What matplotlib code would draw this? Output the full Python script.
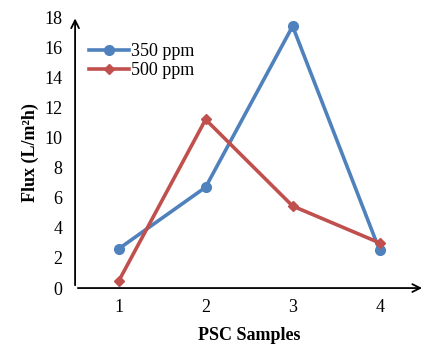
import matplotlib.pyplot as plt

plt.rcParams['font.family'] = ['Liberation Serif', 'DejaVu Serif']

samples = [1, 2, 3, 4]
flux_350 = [2.6, 6.7, 17.4, 2.5]
flux_500 = [0.45, 11.2, 5.45, 3.0]

fig = plt.figure(figsize=(4.34, 3.5), dpi=100)
ax = fig.add_axes([0.173, 0.177, 0.802, 0.774])

ax.plot(samples, flux_350, color='#4F81BD', lw=2.6, marker='o', ms=7, label='350 ppm')
ax.plot(samples, flux_500, color='#C0504D', lw=2.6, marker='D', ms=5.5, label='500 ppm')

ax.set_xlim(0.5, 4.5)
ax.set_ylim(0, 18)
ax.set_xticks(samples)
ax.set_yticks(range(0, 19, 2))
ax.tick_params(length=0, labelsize=13)
ax.tick_params(axis='x', pad=8)
ax.tick_params(axis='y', pad=9)

for s in ['top', 'right', 'left', 'bottom']:
    ax.spines[s].set_visible(False)

# axis lines with arrowheads
ax.annotate('', xy=(0.5, 18.1), xytext=(0.5, 0), xycoords='data',
            arrowprops=dict(arrowstyle='->', color='black', lw=1.3, mutation_scale=14),
            annotation_clip=False)
ax.annotate('', xy=(4.52, 0), xytext=(0.5, 0), xycoords='data',
            arrowprops=dict(arrowstyle='->', color='black', lw=1.3, mutation_scale=14),
            annotation_clip=False)

ax.set_xlabel('PSC Samples', fontsize=13, fontweight='bold', labelpad=8)
ax.set_ylabel('Flux (L/m²h)', fontsize=13, fontweight='bold', labelpad=4)

ax.legend(loc='upper left', bbox_to_anchor=(0.02, 0.93), frameon=False, fontsize=13,
          handlelength=2.2, handletextpad=0.1, labelspacing=0.1, borderaxespad=0)

fig.savefig('out.png', dpi=100)
